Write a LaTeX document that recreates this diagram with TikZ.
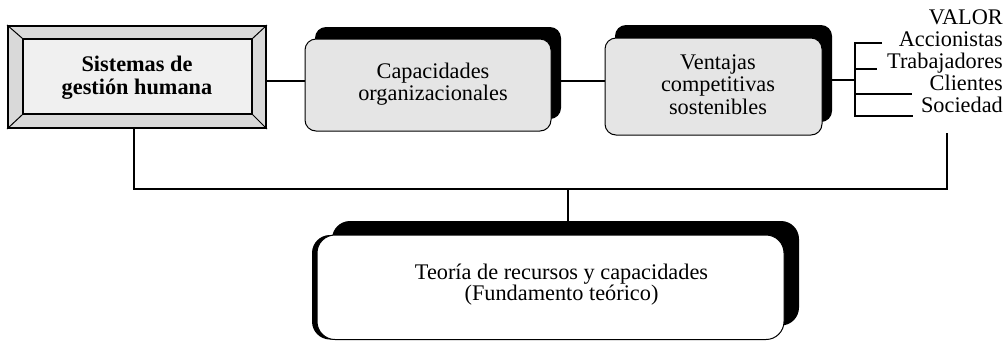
\documentclass[tikz,border=0pt]{standalone}
\usepackage{fontspec}
\setmainfont{Liberation Serif}
\usetikzlibrary{shadows}
\definecolor{boxgray}{gray}{0.90}
\definecolor{bevelout}{gray}{0.85}
\definecolor{bevelin}{gray}{0.94}
\begin{document}
\begin{tikzpicture}[x=1pt,y=-1pt,
  conn/.style={line width=1.6pt},
  rbox/.style={draw, line width=1pt, fill=boxgray, rounded corners=11pt, inner sep=0pt},
  txt/.style={align=center, anchor=base, inner sep=0pt, font=\fontsize{22.3}{22}\selectfont},
]
\useasboundingbox (0,0) rectangle (1005,341);

% bevelled box
\node[draw, line width=2pt, fill=bevelout, minimum width=258pt, minimum height=102pt, inner sep=0pt] (b1) at (137,77) {};
\node[draw, line width=1.5pt, fill=bevelin, minimum width=229pt, minimum height=75pt, inner sep=0pt] (b1i) at (137.5,76.5) {};
\draw[line width=1pt] (b1.north west) -- (b1i.north west)
  (b1.north east) -- (b1i.north east)
  (b1.south west) -- (b1i.south west)
  (b1.south east) -- (b1i.south east);

% shadowed boxes
\node[rbox, minimum width=246pt, minimum height=92pt,
  general shadow={fill=black, shadow xshift=10pt, shadow yshift=12pt}] (b2) at (428,85) {};
\node[rbox, minimum width=217pt, minimum height=97pt,
  general shadow={fill=black, shadow xshift=10pt, shadow yshift=13pt}] (b3) at (713.5,86.5) {};
\node[draw, line width=1pt, fill=white, rounded corners=18pt, inner sep=0pt,
  minimum width=467pt, minimum height=104.5pt,
  general shadow={fill=black, shadow xshift=15pt, shadow yshift=14pt},
  general shadow={fill=black, shadow xshift=-5pt}] (b4) at (550.5,287.25) {};

% texts (base anchor = baseline of the last line)
\node[txt, font=\bfseries\fontsize{22.3}{23.3}\selectfont] (t1) at (137,94.3) {Sistemas de\\gestión humana};
\node[txt] (t2) at (433,100) {Capacidades\\organizacionales};
\node[txt, font=\fontsize{22.3}{22.5}\selectfont] (t3) at (718,114) {Ventajas\\competitivas\\sostenibles};
\node[txt, font=\fontsize{22.3}{20.5}\selectfont] (t4) at (561.5,300) {Teoría de recursos y capacidades\\(Fundamento teórico)};
\node[txt, align=right, anchor=base east] (val) at (1003,112) {VALOR\\Accionistas\\Trabajadores\\Clientes\\Sociedad};

% connectors
\coordinate (row) at (0,81);
\draw[conn] (b1.east |- row) -- (b2.west |- row);
\draw[conn] (b2.east |- row) -- (b3.west |- row);
\coordinate (br) at (855,80);
\draw[conn] (b3.east |- br) -- (br);
\coordinate (a1) at (882,43);
\coordinate (a2) at (877,69);
\coordinate (a3) at (912,94);
\coordinate (a4) at (913,116);
\draw[conn] (a1) -- (a1 -| br) -- (a4 -| br) -- (a4);
\draw[conn] (a2 -| br) -- (a2);
\draw[conn] (a3 -| br) -- (a3);

\coordinate (vb) at (947,133);
\coordinate (jn) at (568,189);
\draw[conn] ([xshift=-3pt]b1.south) -- ([xshift=-3pt]b1.south |- jn) -- (jn -| vb) -- (vb);
\draw[conn] (jn) -- (jn |- b4.north);
\end{tikzpicture}
\end{document}
